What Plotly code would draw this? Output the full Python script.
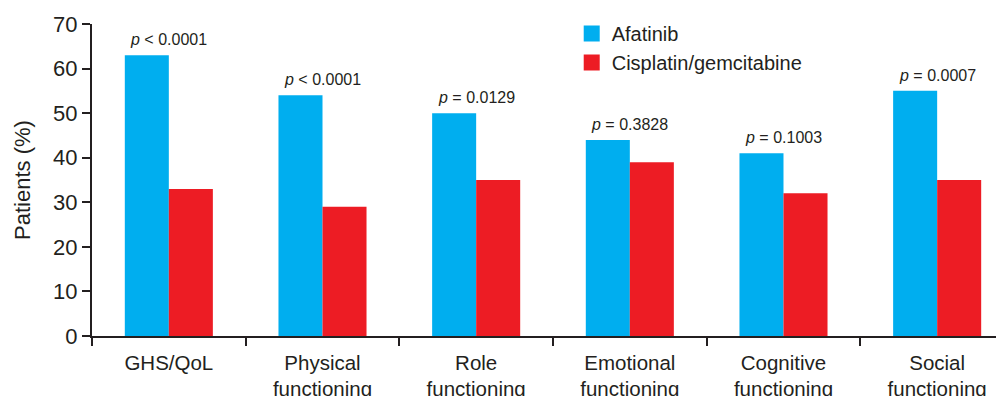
import plotly.graph_objects as go

categories = ["GHS/QoL", "Physical<br>functioning", "Role<br>functioning",
              "Emotional<br>functioning", "Cognitive<br>functioning", "Social<br>functioning"]
afatinib = [63, 54, 50, 44, 41, 55]
cisplatin = [33, 29, 35, 39, 32, 35]
p_labels = ["<i>p</i> &lt; 0.0001", "<i>p</i> &lt; 0.0001", "<i>p</i> = 0.0129",
            "<i>p</i> = 0.3828", "<i>p</i> = 0.1003", "<i>p</i> = 0.0007"]
series_names = ["Afatinib", "Cisplatin/gemcitabine"]

BLUE = "#00AEEF"
RED = "#ED1C24"
INK = "#231F20"
FONT = "Liberation Sans, Arial, Helvetica, sans-serif"

fig = go.Figure()
for name, vals, col in zip(series_names, [afatinib, cisplatin], [BLUE, RED]):
    fig.add_trace(go.Bar(x=categories, y=vals, name=name, showlegend=False,
                         marker=dict(color=col, line=dict(width=0))))
# legend entries with larger square swatches
for name, col in zip(series_names, [BLUE, RED]):
    fig.add_trace(go.Scatter(x=[None], y=[None], name=name, mode="markers",
                             marker=dict(symbol="square", size=18, color=col),
                             showlegend=True))

for cat, val, lab in zip(categories, afatinib, p_labels):
    fig.add_annotation(x=cat, y=val, text=lab, showarrow=False,
                       xanchor="center", yanchor="bottom", yshift=5,
                       font=dict(size=16, color=INK, family=FONT))

# page body has an 8px margin, so the figure is sized to fill the rest of the window
fig.update_layout(
    width=996, height=388,
    margin=dict(l=84, r=0, t=16, b=60),
    paper_bgcolor="white", plot_bgcolor="white",
    barmode="group", bargap=0.427, bargroupgap=0,
    font=dict(family=FONT, color=INK),
    showlegend=True,
    legend=dict(x=0.526, y=1.032, xanchor="left", yanchor="top",
                font=dict(size=20, color=INK, family=FONT),
                bgcolor="rgba(0,0,0,0)", tracegroupgap=0, itemsizing="trace"),
    xaxis=dict(range=[-0.5, 5.435], showline=True, linecolor=INK, linewidth=2,
               ticks="outside", tickson="boundaries", ticklen=8, tickwidth=2,
               tickcolor=INK, tickfont=dict(size=20.5, color=INK, family=FONT),
               ticklabelstandoff=7,
               showgrid=False, zeroline=False, fixedrange=True, automargin=False),
    yaxis=dict(range=[0, 70], dtick=10, showline=True, linecolor=INK, linewidth=2,
               ticks="outside", ticklen=8, tickwidth=2, tickcolor=INK,
               tickfont=dict(size=22, color=INK, family=FONT),
               title=dict(text="Patients (%)", font=dict(size=22, color=INK, family=FONT),
                          standoff=16),
               showgrid=False, zeroline=False, automargin=False),
)

fig.write_html("out.html")
